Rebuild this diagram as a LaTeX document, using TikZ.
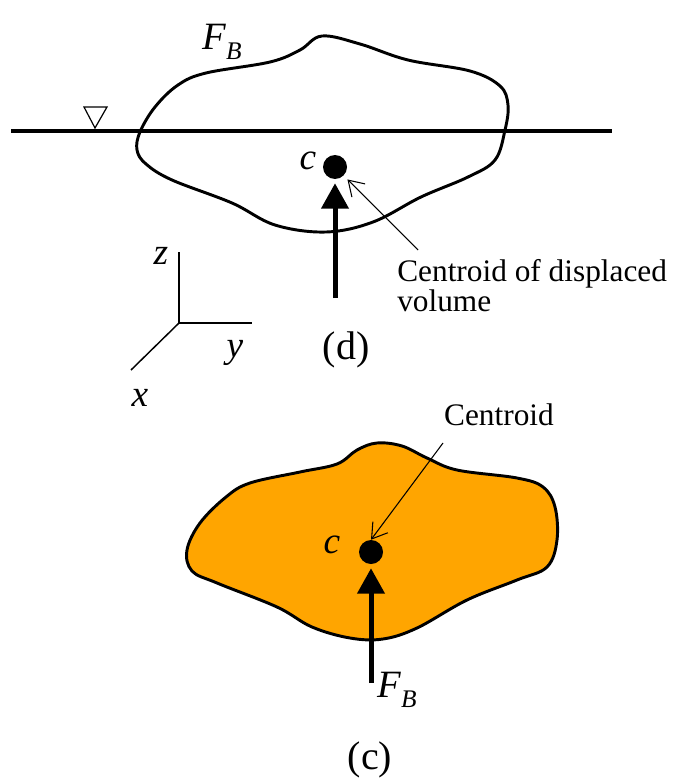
\documentclass[tikz,border=0pt]{standalone}
\usepackage{fontspec}
\setmainfont{Liberation Serif}
\usetikzlibrary{arrows.meta}
\definecolor{bodyfill}{HTML}{FFA500}
\newcommand{\FT}{\fontsize{23.5}{26}\selectfont}
\newcommand{\FV}{\fontsize{28}{32}\selectfont\itshape}
\newcommand{\FC}{\fontsize{30}{36}\selectfont}
\newcommand{\FBL}{{\fontsize{29}{34}\selectfont\itshape F\raisebox{-7pt}{\fontsize{19}{20}\selectfont B}}}

\begin{document}
\begin{tikzpicture}[x=0.75pt,y=-0.75pt]
\tikzstyle{texto}=[draw=none,fill=none,black,inner sep=0pt]
\tikzstyle{body}=[black,line width=2.2pt,line join=round]
\tikzstyle{dot}=[circle,fill=black,minimum size=18pt,inner sep=0pt]
\tikzstyle{force}=[line width=3.75pt,-{Triangle[length=19pt,width=20pt]}]
\tikzstyle{leader}=[line width=0.8pt,-{Straight Barb[length=11pt,width=14pt]}]
\tikzstyle{axis}=[line width=1.1pt]

\useasboundingbox (0,0) rectangle (673,781);

% (d) floating body
\draw[body] plot[smooth cycle,tension=0.6] coordinates {
  (322,36) (300,50) (270,62) (206,73) (178,85) (155,107) (140,132)
  (137,150) (146,164) (172,180) (232,203) (275,225) (326,232)
  (373,222) (421,197) (468,177) (495,160) (505,130) (508,105)
  (500,86) (470,71) (408,60) (360,44)};
\draw[line width=3pt] (11,131) -- (612,131);
\draw[line width=0.9pt] (84,107) -- (107,107) -- (95,128) -- cycle;

\node[texto] (fbd) at (222,42) {\FBL};
\node[dot] (cd) at (335,167) {};
\node[texto] (lcd) at (308,161) {\FV c};
\coordinate (fd) at (335,298);
\draw[force,shorten >=3pt] (fd) -- (cd);

\node[texto,anchor=north west,align=left] (txd) at (397,259)
  {\FT Centroid of displaced\\ \FT volume};
\coordinate (ld) at (418,250);
\draw[leader,shorten >=4pt] (ld) -- (cd);

% axes
\coordinate (o) at (179,323);
\coordinate (oz) at (179,252);
\coordinate (oy) at (252,323);
\coordinate (ox) at (131,370);
\draw[axis] (oz) -- (o) -- (oy);
\draw[axis] (o) -- (ox);
\node[texto] (lz) at (161,256) {\FV z};
\node[texto] (ly) at (235,353) {\FV y};
\node[texto] (lx) at (140,398) {\FV x};
\node[texto] (capd) at (346,350) {\FC (d)};

% (c) submerged body
\draw[body,fill=bodyfill] plot[smooth cycle,tension=0.6] coordinates {
  (377,443) (357,450) (337,464) (300,472) (250,483) (226,497)
  (200,523) (187,550) (192,571) (217,583) (277,607) (312,627)
  (350,638) (383,639) (417,628) (467,600) (517,580) (547,567)
  (557,540) (555,507) (543,487) (517,478) (457,470) (427,458)
  (402,446)};

\node[dot] (cc) at (371,552) {};
\node[texto] (lcc) at (332,545) {\FV c};
\coordinate (fc) at (371,683);
\draw[force,shorten >=3pt] (fc) -- (cc);
\node[texto] (fbc) at (397,690) {\FBL};

\node[texto] (txc) at (499,415) {\FT Centroid};
\coordinate (lc) at (443,443);
\draw[leader] (lc) -- (cc.north);

\node[texto] (capc) at (370,760) {\FC (c)};
\end{tikzpicture}
\end{document}
